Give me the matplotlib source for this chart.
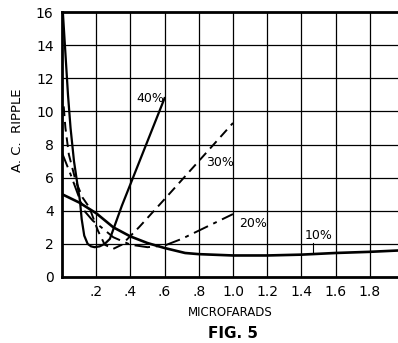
import numpy as np
import matplotlib
matplotlib.use("Agg")
import matplotlib.pyplot as plt

# values (microfarads vs A.C. ripple)
x40 = [0.005, 0.02, 0.035, 0.05, 0.07, 0.09, 0.105, 0.115, 0.13, 0.15, 0.17, 0.19, 0.22, 0.25, 0.28, 0.35, 0.45, 0.6]
y40 = [16.0, 13.5, 11.0, 9.0, 7.0, 5.6, 4.6, 3.5, 2.5, 2.0, 1.85, 1.8, 1.85, 2.0, 2.3, 4.3, 6.9, 10.8]

x30 = [0.01, 0.02, 0.04, 0.08, 0.12, 0.16, 0.21, 0.25, 0.3, 0.35, 0.45, 0.6, 0.8, 1.0]
y30 = [10.3, 9.0, 7.4, 5.8, 4.8, 4.2, 2.8, 1.95, 1.7, 1.95, 3.0, 4.7, 7.0, 9.3]

x20 = [0.0, 0.05, 0.1, 0.13, 0.18, 0.23, 0.3, 0.4, 0.5, 0.6, 0.7, 0.8, 0.9, 1.0]
y20 = [7.5, 6.2, 4.8, 4.0, 3.4, 3.0, 2.4, 1.95, 1.8, 1.9, 2.3, 2.8, 3.3, 3.8]

x10 = [0.0, 0.1, 0.2, 0.3, 0.4, 0.5, 0.6, 0.72, 0.8, 1.0, 1.2, 1.4, 1.6, 1.8, 1.965]
y10 = [5.0, 4.5, 3.85, 3.0, 2.45, 2.05, 1.75, 1.45, 1.38, 1.3, 1.3, 1.35, 1.45, 1.52, 1.6]

xticks = [0.2, 0.4, 0.6, 0.8, 1.0, 1.2, 1.4, 1.6, 1.8]
xticklabels = [".2", ".4", ".6", ".8", "1.0", "1.2", "1.4", "1.6", "1.8"]
yticks = [0, 2, 4, 6, 8, 10, 12, 14, 16]

fig = plt.figure(figsize=(3.98, 3.43), dpi=100)
ax = fig.add_axes([62/398, 66/343, 336/398, 265/343])
ax.set_xlim(0, 1.965)
ax.set_ylim(0, 16)

# hand-ruled grid
for v in np.arange(0.2, 1.95, 0.2):
    ax.axvline(v, color="black", lw=0.9, zorder=1)
for v in yticks[1:-1]:
    ax.axhline(v, color="black", lw=0.9, zorder=1)

ax.plot(x40, y40, color="black", lw=1.6, zorder=3)
ax.plot(x30, y30, color="black", lw=1.4, dashes=(5, 3), zorder=3)
ax.plot(x20, y20, color="black", lw=1.4, dashes=(8, 3, 2, 3), zorder=3)
ax.plot(x10, y10, color="black", lw=1.9, zorder=3)

ax.text(0.515, 10.8, "40%", ha="center", va="center", fontsize=9)
ax.text(0.925, 6.9, "30%", ha="center", va="center", fontsize=9)
ax.text(1.12, 3.25, "20%", ha="center", va="center", fontsize=9)
ax.text(1.5, 2.5, "10%", ha="center", va="center", fontsize=9)
ax.plot([1.47, 1.47], [2.05, 1.45], color="black", lw=0.8)

ax.set_xticks(xticks)
ax.set_xticklabels(xticklabels)
ax.set_yticks(yticks)
ax.tick_params(length=0, labelsize=10, pad=6)

for side in ["left", "bottom", "top"]:
    ax.spines[side].set_linewidth(2)
ax.spines["right"].set_visible(False)

fig.text(18/398, 1 - 130/343, "A. C.  RIPPLE", rotation=90, ha="center", va="center", fontsize=9.5)
fig.text(230/398, 1 - 313/343, "MICROFARADS", ha="center", va="center", fontsize=8.5)
fig.text(233/398, 1 - 333/343, "FIG. 5", ha="center", va="center", fontsize=11, fontweight="bold")

fig.savefig("out.png", dpi=100)
